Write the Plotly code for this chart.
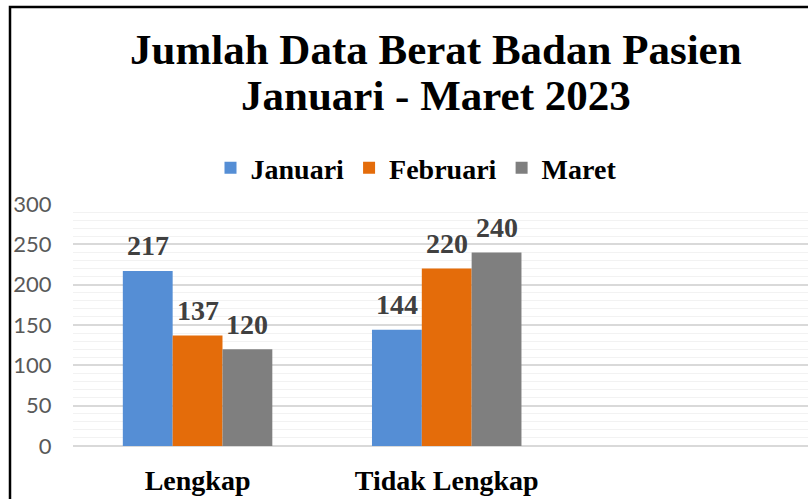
import plotly.graph_objects as go

categories = ["Lengkap", "Tidak Lengkap"]
series_names = ["Januari", "Februari", "Maret"]
januari = [217, 144]
februari = [137, 220]
maret = [120, 240]
y_ticks = [0, 50, 100, 150, 200, 250, 300]
title_lines = ["Jumlah Data Berat Badan Pasien", "Januari - Maret 2023"]

colors = ["#558ED5", "#E46C0A", "#7F7F7F"]
serif = "Liberation Serif, Times New Roman, serif"

W, H = 808, 499
ML, MR, MT, MB = 73, 0, 204, 53
PW, PH = W - ML - MR, H - MT - MB

x_pos = list(range(len(categories)))
values = [januari, februari, maret]

fig = go.Figure()
for name, vals, col in zip(series_names, values, colors):
    fig.add_trace(go.Bar(x=x_pos, y=vals, name="<b>%s</b>" % name,
                         marker=dict(color=col, line=dict(width=0))))

bar_w = 0.2
annotations = []
for j, vals in enumerate(values):
    off = (j - 1) * bar_w
    for i, v in enumerate(vals):
        annotations.append(dict(x=x_pos[i] + off, y=v, xref="x", yref="y", text="<b>%d</b>" % v,
                                showarrow=False, yanchor="middle", yshift=25,
                                font=dict(family=serif, size=28, color="#404040")))

# title lines
for txt, py in zip(title_lines, [50, 96]):
    annotations.append(dict(x=(436 - ML) / PW, y=(H - MB - py) / PH, xref="paper", yref="paper",
                            text="<b>%s</b>" % txt, showarrow=False,
                            xanchor="center", yanchor="middle",
                            font=dict(family=serif, size=43, color="black")))

fig.update_layout(
    width=W, height=H,
    margin=dict(l=ML, r=MR, t=MT, b=MB, autoexpand=False),
    paper_bgcolor="white", plot_bgcolor="white",
    barmode="group", bargap=0.4, bargroupgap=0,
    legend=dict(orientation="h", x=(416 - ML) / PW, xanchor="center",
                y=(H - MB - 168) / PH, yanchor="middle",
                font=dict(family=serif, size=28, color="black"), itemclick=False,
                traceorder="normal"),
    annotations=annotations,
    xaxis=dict(range=[-0.5, 2.45], tickvals=x_pos, automargin=False,
               ticktext=["<b>%s</b>" % c for c in categories],
               tickfont=dict(family=serif, size=28, color="black"),
               showgrid=False, showline=False, zeroline=False,
               ticks="outside", ticklen=9, tickcolor="rgba(0,0,0,0)", fixedrange=True),
    yaxis=dict(range=[0, 300], tickvals=y_ticks, automargin=False,
               tickfont=dict(family="Lato, Open Sans, sans-serif", size=22, color="#595959"),
               showgrid=True, gridcolor="#D9D9D9", gridwidth=1.5,
               zeroline=True, zerolinecolor="#D9D9D9", zerolinewidth=1.5,
               minor=dict(dtick=10, showgrid=True, gridcolor="#F2F2F2", gridwidth=1),
               ticks="outside", ticklen=16, tickcolor="rgba(0,0,0,0)", showline=False,
               fixedrange=True),
    shapes=[dict(type="rect", xref="paper", yref="paper",
                 x0=(10 - ML) / PW, x1=1.2, y0=-0.6, y1=(H - MB - 7) / PH,
                 line=dict(color="black", width=2.5), fillcolor="rgba(0,0,0,0)", layer="above")],
)

fig.write_html("out.html", config={"displayModeBar": False},
               post_script="document.body.style.margin='0';document.body.style.overflow='hidden';")
